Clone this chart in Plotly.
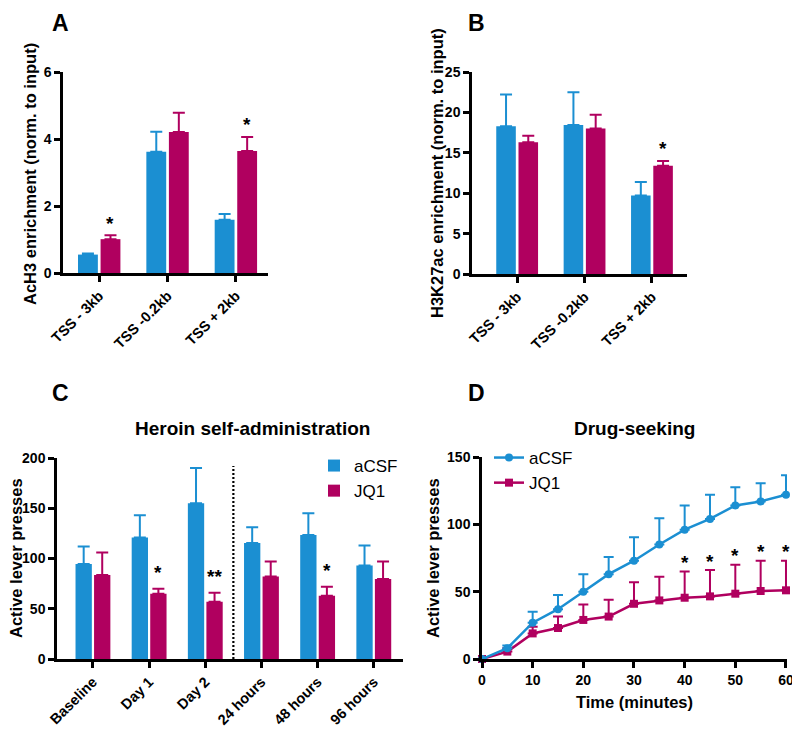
import plotly.graph_objects as go

# ---------------- data ----------------
tss_categories = ["TSS - 3kb", "TSS -0.2kb", "TSS + 2kb"]

a_acsf = [0.55, 3.62, 1.59]
a_acsf_err = [0.03, 0.60, 0.17]
a_jq1 = [1.01, 4.21, 3.64]
a_jq1_err = [0.12, 0.57, 0.42]
a_sig = ["*", "", "*"]

b_acsf = [18.3, 18.45, 9.7]
b_acsf_err = [3.9, 4.05, 1.7]
b_jq1 = [16.3, 18.0, 13.4]
b_jq1_err = [0.8, 1.7, 0.6]
b_sig = ["", "", "*"]

c_categories = ["Baseline", "Day 1", "Day 2", "24 hours", "48 hours", "96 hours"]
c_acsf = [94.5, 121, 155, 115.5, 123.5, 93]
c_acsf_err = [17.5, 22, 35, 15.5, 21.5, 20]
c_jq1 = [83.5, 65, 57, 82, 63, 79.5]
c_jq1_err = [22.5, 5, 9, 15, 9, 17.5]
c_sig = ["", "*", "**", "", "*", ""]

d_time = [0, 5, 10, 15, 20, 25, 30, 35, 40, 45, 50, 55, 60]
d_acsf = [0, 8, 27, 37, 50, 63, 73, 85, 96, 104, 114, 117, 122]
d_acsf_err = [0, 2, 8, 10.5, 13, 12.7, 17.5, 19.5, 18, 18, 13.5, 13.5, 14.5]
d_jq1 = [0, 5.5, 19, 23, 29, 31.5, 41, 43.5, 45.5, 46.5, 48.5, 50.5, 51]
d_jq1_err = [0, 2.5, 5, 8.5, 11.5, 12.5, 16, 17.5, 19.5, 19.5, 21.5, 22.5, 22]
d_sig = ["", "", "", "", "", "", "", "", "*", "*", "*", "*", "*"]

# ---------------- style ----------------
BLUE = "#1b8fd2"
PINK = "#b0005f"
FONT = "Arial, Liberation Sans, sans-serif"
PAGE_MARGIN = 8          # default body margin of the html page
W, H = 800 - PAGE_MARGIN, 729 - PAGE_MARGIN

def px_x(p):
    return (p - PAGE_MARGIN) / W

def px_y(p):
    return 1 - (p - PAGE_MARGIN) / H

fig = go.Figure()

def add_bars(xa, ya, cats, v1, e1, v2, e2, showlegend=False, legend="legend"):
    fig.add_trace(go.Bar(
        x=cats, y=v1, name="aCSF", marker=dict(color=BLUE, line=dict(width=0)),
        error_y=dict(type="data", array=e1, arrayminus=[0] * len(e1), symmetric=False,
                     color=BLUE, thickness=2, width=6),
        xaxis=xa, yaxis=ya, showlegend=showlegend, legend=legend))
    fig.add_trace(go.Bar(
        x=cats, y=v2, name="JQ1", marker=dict(color=PINK, line=dict(width=0)),
        error_y=dict(type="data", array=e2, arrayminus=[0] * len(e2), symmetric=False,
                     color=PINK, thickness=2, width=6),
        xaxis=xa, yaxis=ya, showlegend=showlegend, legend=legend))

add_bars("x", "y", tss_categories, a_acsf, a_acsf_err, a_jq1, a_jq1_err)
add_bars("x2", "y2", tss_categories, b_acsf, b_acsf_err, b_jq1, b_jq1_err)
add_bars("x3", "y3", c_categories, c_acsf, c_acsf_err, c_jq1, c_jq1_err, showlegend=True)

# Panel D lines (JQ1 drawn first so aCSF lies on top)
fig.add_trace(go.Scatter(
    x=d_time, y=d_jq1, name="JQ1", mode="lines+markers",
    line=dict(color=PINK, width=2.5), marker=dict(symbol="square", size=8, color=PINK),
    error_y=dict(type="data", array=d_jq1_err, arrayminus=[0] * len(d_jq1_err),
                 symmetric=False, color=PINK, thickness=2, width=5),
    xaxis="x4", yaxis="y4", legend="legend2", legendrank=2, cliponaxis=False))
fig.add_trace(go.Scatter(
    x=d_time, y=d_acsf, name="aCSF", mode="lines+markers",
    line=dict(color=BLUE, width=2.5), marker=dict(symbol="circle", size=8, color=BLUE),
    error_y=dict(type="data", array=d_acsf_err, arrayminus=[0] * len(d_acsf_err),
                 symmetric=False, color=BLUE, thickness=2, width=5),
    xaxis="x4", yaxis="y4", legend="legend2", legendrank=1, cliponaxis=False))

BARGAP = 0.34
pink_off = (1 - BARGAP) / 4

annotations = []
starfont = dict(family=FONT, size=19, color="black", weight="bold")

def star_annots(xref, yref, xs, sig, vals, errs, shift):
    for i, s in enumerate(sig):
        if s:
            annotations.append(dict(
                x=xs[i], y=vals[i] + errs[i], xref=xref, yref=yref,
                text=s, showarrow=False, yanchor="middle", yshift=shift,
                font=starfont))

star_annots("x", "y", [i + pink_off for i in range(3)], a_sig, a_jq1, a_jq1_err, 12)
star_annots("x2", "y2", [i + pink_off for i in range(3)], b_sig, b_jq1, b_jq1_err, 12)
star_annots("x3", "y3", [i + pink_off for i in range(6)], c_sig, c_jq1, c_jq1_err, 16)
star_annots("x4", "y4", d_time, d_sig, d_jq1, d_jq1_err, 9)

# panel letters and titles
letterfont = dict(family=FONT, size=23, color="black", weight="bold")
for letter, x in [("A", 60), ("B", 477)]:
    annotations.append(dict(x=px_x(x), y=px_y(PAGE_MARGIN), xref="paper", yref="paper",
                            text=letter, showarrow=False,
                            xanchor="center", yanchor="top", font=letterfont))
for letter, x, y in [("C", 60, 393), ("D", 476, 393)]:
    annotations.append(dict(x=px_x(x), y=px_y(y), xref="paper", yref="paper",
                            text=letter, showarrow=False,
                            xanchor="center", yanchor="middle", font=letterfont))
for title, x, y in [("Heroin self-administration", 252, 428), ("Drug-seeking", 634, 428)]:
    annotations.append(dict(x=px_x(x), y=px_y(y), xref="paper", yref="paper",
                            text=title, showarrow=False,
                            xanchor="center", yanchor="middle",
                            font=dict(family=FONT, size=19, color="black", weight="bold")))

titlefont = dict(family=FONT, size=16.5, color="black", weight="bold")
# y-axis titles placed as rotated annotations
for title, x, y in [("AcH3 enrichment (norm. to input)", 30, 174),
                    ("H3K27ac enrichment (norm. to input)", 437, 173),
                    ("Active lever presses", 16, 558),
                    ("Active lever presses", 433, 558)]:
    annotations.append(dict(x=px_x(x), y=px_y(y), xref="paper", yref="paper",
                            text=title, showarrow=False, textangle=-90,
                            xanchor="center", yanchor="middle", font=titlefont))

tickfont = dict(family=FONT, size=14, color="black", weight="bold")
catfont = dict(family=FONT, size=14.5, color="black", weight="bold")

def axis_common():
    return dict(showline=True, linecolor="black", linewidth=2.5, ticks="outside",
                ticklen=6, tickwidth=2.5, tickcolor="black", showgrid=False,
                zeroline=False, automargin=False)

def cat_axis(domain, rng, anchor):
    d = axis_common()
    d.update(domain=domain, range=rng, anchor=anchor, tickangle=-45,
             tickfont=catfont)
    return d

def num_yaxis(domain, rng, dtick, anchor):
    d = axis_common()
    d.update(domain=domain, range=rng, dtick=dtick, anchor=anchor,
             tickfont=tickfont)
    return d

fig.update_layout(
    width=W, height=H,
    margin=dict(l=0, r=0, t=0, b=0, autoexpand=False),
    paper_bgcolor="white", plot_bgcolor="white",
    barmode="group", bargap=BARGAP, bargroupgap=0.12,
    font=dict(family=FONT, color="black"),
    xaxis=cat_axis([px_x(63), px_x(268)], [-0.53, 2.47], "y"),
    yaxis=num_yaxis([px_y(273), px_y(72)], [0, 6], 2, "x"),
    xaxis2=cat_axis([px_x(472), px_x(687)], [-0.67, 2.52], "y2"),
    yaxis2=num_yaxis([px_y(274), px_y(72)], [0, 25], 5, "x2"),
    xaxis3=cat_axis([px_x(57), px_x(403)], [-0.64, 5.52], "y3"),
    yaxis3=num_yaxis([px_y(659), px_y(458)], [0, 200], 50, "x3"),
    xaxis4=dict(**axis_common(), domain=[px_x(482), px_x(787)], range=[0, 60.2],
                dtick=10, anchor="y4", tickfont=tickfont,
                title=dict(text="Time (minutes)", font=titlefont, standoff=10)),
    yaxis4=num_yaxis([px_y(659), px_y(457)], [0, 150], 50, "x4"),
    legend=dict(x=px_x(314), y=px_y(448), xanchor="left", yanchor="top",
                font=dict(family=FONT, size=17, color="black"),
                bgcolor="rgba(0,0,0,0)", tracegroupgap=0),
    legend2=dict(x=px_x(489), y=px_y(440), xanchor="left", yanchor="top",
                 font=dict(family=FONT, size=17, color="black"),
                 bgcolor="rgba(0,0,0,0)", traceorder="normal"),
    annotations=annotations,
    shapes=[dict(type="line", xref="x3", yref="y3", x0=2.5, x1=2.5, y0=0, y1=192,
                 line=dict(color="black", width=2.2, dash="2px,2px"))],
)

fig.write_html("out.html")
